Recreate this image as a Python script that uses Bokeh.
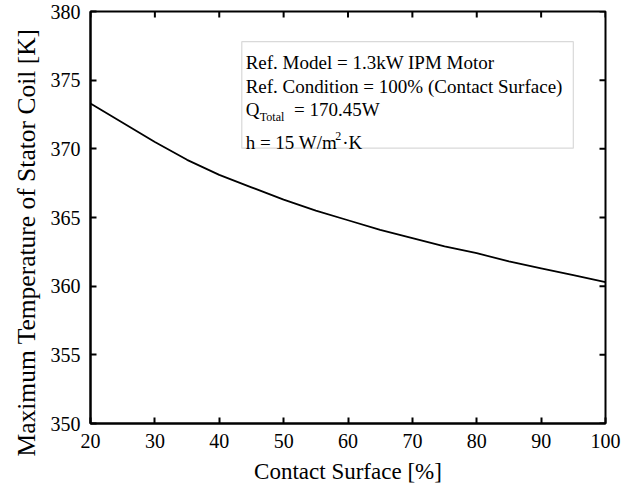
from bokeh.plotting import figure
from bokeh.models import FixedTicker, BoxAnnotation, Label, Range1d, Title
from bokeh.embed import file_html
from bokeh.resources import INLINE

# Data
contact_surface = [20, 25, 30, 35, 40, 45, 50, 55, 60, 65, 70, 75, 80, 85, 90, 95, 100]
max_temp = [373.3, 371.9, 370.5, 369.2, 368.1, 367.2, 366.3, 365.5, 364.8, 364.1,
            363.5, 362.9, 362.4, 361.8, 361.3, 360.8, 360.3]
x_ticks = [20, 30, 40, 50, 60, 70, 80, 90, 100]
y_ticks = [350, 355, 360, 365, 370, 375, 380]
x_min, x_max = 20, 100
y_min, y_max = 350, 380

FONT = "Liberation Serif"
W, H = 628, 486
B_LEFT, B_RIGHT, B_TOP, B_BOTTOM = 90, 23, 11, 62
TICK = 6

p = figure(width=W, height=H, output_backend="svg", toolbar_location=None,
           x_range=Range1d(x_min, x_max), y_range=Range1d(y_min, y_max),
           min_border_left=B_LEFT, min_border_right=B_RIGHT,
           min_border_top=B_TOP, min_border_bottom=B_BOTTOM,
           x_axis_label="Contact Surface [%]")
p.background_fill_color = "white"
p.border_fill_color = "white"
p.grid.visible = False
p.outline_line_color = "black"
p.outline_line_width = 2

p.line(contact_surface, max_temp, line_color="black", line_width=1.8)

for ax in (p.xaxis[0], p.yaxis[0]):
    ax.axis_line_width = 2
    ax.axis_line_color = "black"
    ax.major_tick_in = TICK
    ax.major_tick_out = 0
    ax.major_tick_line_width = 2
    ax.major_tick_line_color = "black"
    ax.minor_tick_line_color = None
    ax.major_label_text_font = FONT
    ax.major_label_text_font_size = "20px"
    ax.major_label_text_color = "black"
    ax.axis_label_text_font = FONT
    ax.axis_label_text_font_style = "normal"
    ax.axis_label_text_color = "black"

xa = p.xaxis[0]
ya = p.yaxis[0]
xa.ticker = FixedTicker(ticks=x_ticks)
ya.ticker = FixedTicker(ticks=y_ticks)
xa.major_label_standoff = 10
ya.major_label_standoff = 10
xa.axis_label_text_font_size = "23px"
xa.axis_label_standoff = 8

# mirrored inward ticks on the top and right edges
n_x, n_y = len(x_ticks), len(y_ticks)
frame_w = W - B_LEFT - B_RIGHT
frame_h = H - B_TOP - B_BOTTOM
tx = TICK * (x_max - x_min) / frame_w
ty = TICK * (y_max - y_min) / frame_h
p.segment(x0=x_ticks, y0=[y_max] * n_x, x1=x_ticks, y1=[y_max - ty] * n_x,
          line_color="black", line_width=2)
p.segment(x0=[x_max] * n_y, y0=y_ticks, x1=[x_max - tx] * n_y, y1=y_ticks,
          line_color="black", line_width=2)

# y-axis title, shifted a little below the frame centre as in the reference
p.add_layout(Title(text="Maximum Temperature of Stator Coil [K]", align="left",
                   offset=-33, standoff=14, text_font=FONT, text_font_size="25.5px",
                   text_font_style="normal", text_color="black"), "left")

# Annotation box
p.add_layout(BoxAnnotation(left=43.5, right=95.0, top=377.8, bottom=370.05,
                           fill_color="white", fill_alpha=1.0,
                           line_color="#808080", line_width=1.2))

def lab(x, y, text, size="19px"):
    p.add_layout(Label(x=x, y=y, text=text, text_font=FONT, text_font_size=size,
                       text_color="black", text_baseline="alphabetic"))

lab(44.1, 376.32, "Ref. Model = 1.3kW IPM Motor")
lab(44.1, 374.52, "Ref. Condition = 100% (Contact Surface)")
lab(44.1, 372.86, "Q")
lab(46.3, 372.30, "Total", size="12px")
lab(51.6, 372.86, "= 170.45W")
lab(44.1, 370.48, "h = 15 W/m")
lab(58.0, 370.90, "2", size="12px")
lab(59.1, 370.48, "\u00b7K")

open("out.html", "w").write(file_html(p, INLINE))
